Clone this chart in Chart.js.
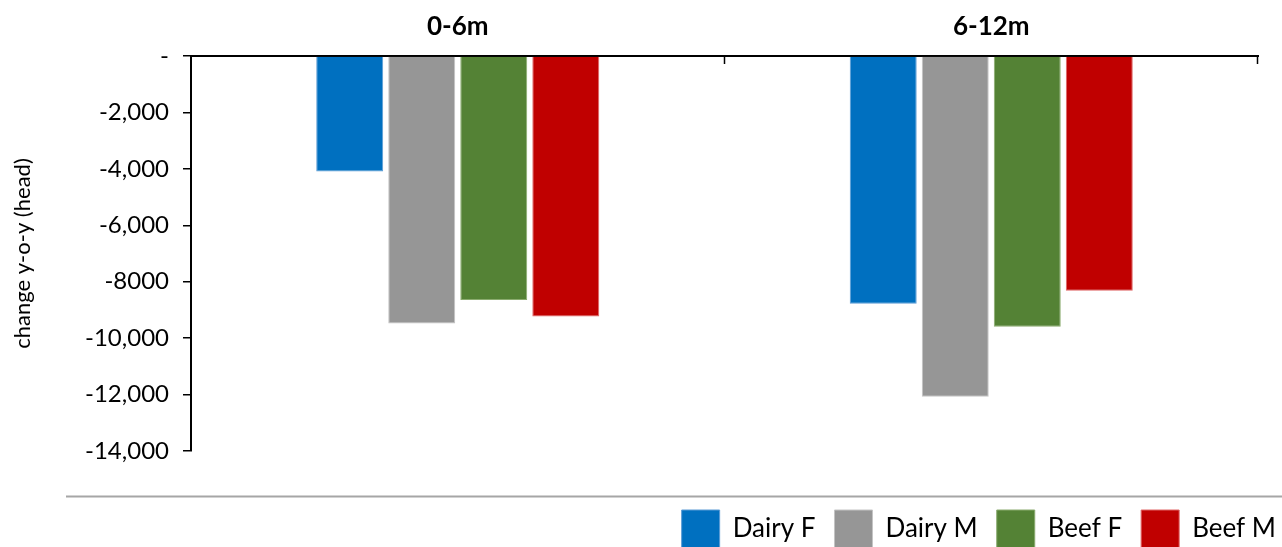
<!DOCTYPE html>
<html>
<head>
<meta charset="UTF-8">
<title>change y-o-y</title>
<script src="https://cdn.jsdelivr.net/npm/chart.js"></script>
<style>
  body { margin: 0; background: #fff; }
  .wrap { width: 1282px; height: 547px; }
</style>
</head>
<body>
<div class="wrap"><canvas id="c"></canvas></div>
<script>
const categories = ['0-6m', '6-12m'];
const seriesNames = ['Dairy F', 'Dairy M', 'Beef F', 'Beef M'];
const dairyF = [-4090, -8780];
const dairyM = [-9480, -12080];
const beefF = [-8650, -9600];
const beefM = [-9230, -8320];
const yTickValues = [0, -2000, -4000, -6000, -8000, -10000, -12000, -14000];
const yTickLabels = ['-', '-2,000', '-4,000', '-6,000', '-8000', '-10,000', '-12,000', '-14,000'];

const colors = ['#0070C0', '#969696', '#548235', '#C00000'];
const edges = ['#5b9bd5', '#c4c4c4', '#8aab6e', '#e06666'];
const FONT = 'Lato';

// small tick marks on the category axis and the grey rule above the legend
const extras = {
  id: 'extras',
  afterLayout(chart) {
    // legend runs past the plot's right edge in the original
    chart.legend.left += 37;
    chart.legend.right += 37;
  },
  afterDraw(chart) {
    const ctx = chart.ctx;
    const xs = chart.scales.x;
    const top = chart.chartArea.top;
    ctx.save();
    ctx.strokeStyle = '#000';
    ctx.lineWidth = 1.5;
    const n = categories.length;
    for (let i = 1; i <= n; i++) {
      const x = Math.round(xs.left + i * xs.width / n) - 0.5;
      ctx.beginPath();
      ctx.moveTo(x, top);
      ctx.lineTo(x, top + 8);
      ctx.stroke();
    }
    const boxes = chart.legend.legendHitBoxes;
    if (boxes && boxes.length) {
      const y = Math.round(boxes[0].top - 14) + 0.5;
      ctx.strokeStyle = '#a6a6a6';
      ctx.lineWidth = 2;
      ctx.beginPath();
      ctx.moveTo(66, y);
      ctx.lineTo(chart.width, y);
      ctx.stroke();
    }
    ctx.restore();
  }
};

const series = [dairyF, dairyM, beefF, beefM];
new Chart(document.getElementById('c'), {
  type: 'bar',
  data: {
    labels: categories,
    datasets: series.map((d, i) => ({
      label: seriesNames[i],
      data: d,
      backgroundColor: colors[i],
      borderColor: edges[i],
      borderWidth: 1,
      borderSkipped: 'start',
      barPercentage: 0.93,
      categoryPercentage: 0.54
    }))
  },
  options: {
    responsive: true,
    maintainAspectRatio: false,
    animation: false,
    layout: { padding: { left: 0, right: 24, top: 0, bottom: -11 } },
    scales: {
      x: {
        position: 'top',
        grid: { display: false, drawTicks: false },
        border: { display: true, color: '#000', width: 2 },
        ticks: { color: '#000', padding: 14, font: { family: FONT, size: 26, weight: 'bold' } },
        afterFit(s) { s.height = 56; }
      },
      y: {
        min: -14000,
        max: 0,
        ticks: {
          stepSize: 2000,
          color: '#000',
          padding: 14,
          font: { family: FONT, size: 24 },
          callback(v) {
            const k = yTickValues.indexOf(v);
            return k >= 0 ? yTickLabels[k] : '';
          }
        },
        grid: { drawOnChartArea: false, drawTicks: true, tickLength: 8, color: '#000', lineWidth: 1.5 },
        border: { display: true, color: '#000', width: 2 },
        title: { display: true, text: 'change y-o-y (head)', color: '#000', font: { family: FONT, size: 22 }, padding: { top: 10, bottom: 0 } },
        afterFit(s) { s.width = 191; }
      }
    },
    plugins: {
      legend: {
        position: 'bottom',
        align: 'end',
        title: { display: true, text: ' ', font: { size: 10 }, padding: { top: 28, bottom: 0 } },
        labels: {
          boxWidth: 38,
          boxHeight: 38,
          padding: 19,
          color: '#000',
          font: { family: FONT, size: 26 },
          useBorderRadius: false
        }
      },
      tooltip: { enabled: false }
    }
  },
  plugins: [extras]
});
</script>
</body>
</html>
